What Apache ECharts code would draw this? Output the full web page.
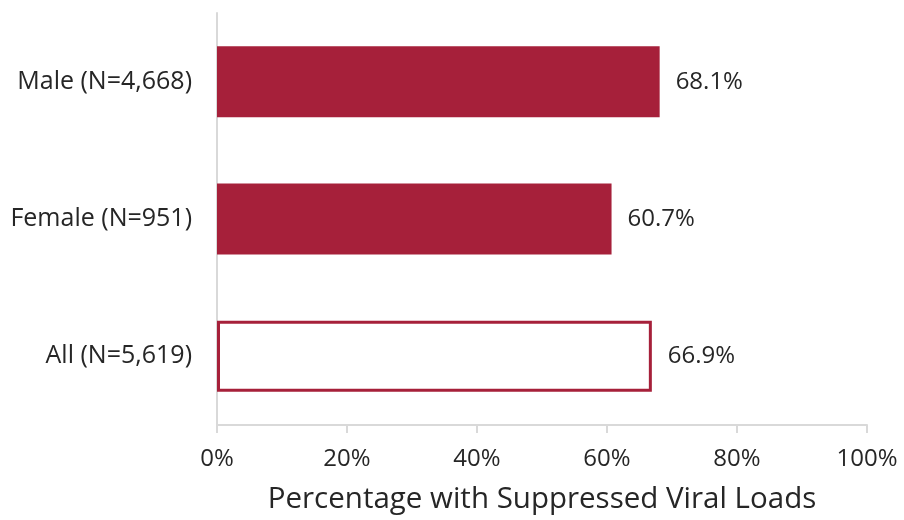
<!DOCTYPE html>
<html><head><meta charset="utf-8">
<script src="https://cdn.jsdelivr.net/npm/echarts@6/dist/echarts.min.js"></script>
<style>html,body{margin:0;padding:0;background:#fff}#c{width:904px;height:520px}</style>
</head><body><div id="c"></div>
<script>
const categories = ['Male (N=4,668)', 'Female (N=951)', 'All (N=5,619)'];
const values = [68.1, 60.7, 66.9];
const outlined = [false, false, true];
const xTicks = [0, 20, 40, 60, 80, 100];

const FONT = 'Open Sans';
const RED = '#a6203a';
const chart = echarts.init(document.getElementById('c'));
chart.setOption({
  animation: false,
  grid: { left: 217, right: 37, top: 13, bottom: 94, containLabel: false },
  xAxis: {
    type: 'value', min: xTicks[0], max: xTicks[xTicks.length - 1], interval: 20,
    axisLine: { show: true, lineStyle: { color: '#d9d9d9', width: 2 } },
    axisTick: { show: true, length: 8, lineStyle: { color: '#d9d9d9', width: 2 } },
    splitLine: { show: false },
    axisLabel: { formatter: '{value}%', color: '#262626', fontSize: 24, fontFamily: FONT, margin: 22 },
    name: 'Percentage with Suppressed Viral Loads', nameLocation: 'middle', nameGap: 60,
    nameTextStyle: { color: '#262626', fontSize: 29.5, fontFamily: FONT }
  },
  yAxis: {
    type: 'category', data: categories, inverse: true,
    axisLine: { show: true, lineStyle: { color: '#d9d9d9', width: 2 } },
    axisTick: { show: false },
    axisLabel: { color: '#262626', fontSize: 25, fontFamily: FONT, margin: 25 }
  },
  series: [{
    type: 'bar', barWidth: 71,
    data: values.map((v, i) => ({
      value: v,
      itemStyle: outlined[i]
        ? { color: '#ffffff', borderColor: RED, borderWidth: 3 }
        : { color: RED }
    })),
    label: { show: true, position: 'right', distance: 16, formatter: p => p.value.toFixed(1) + '%',
      color: '#262626', fontSize: 24, fontFamily: FONT }
  }]
});
</script></body></html>
